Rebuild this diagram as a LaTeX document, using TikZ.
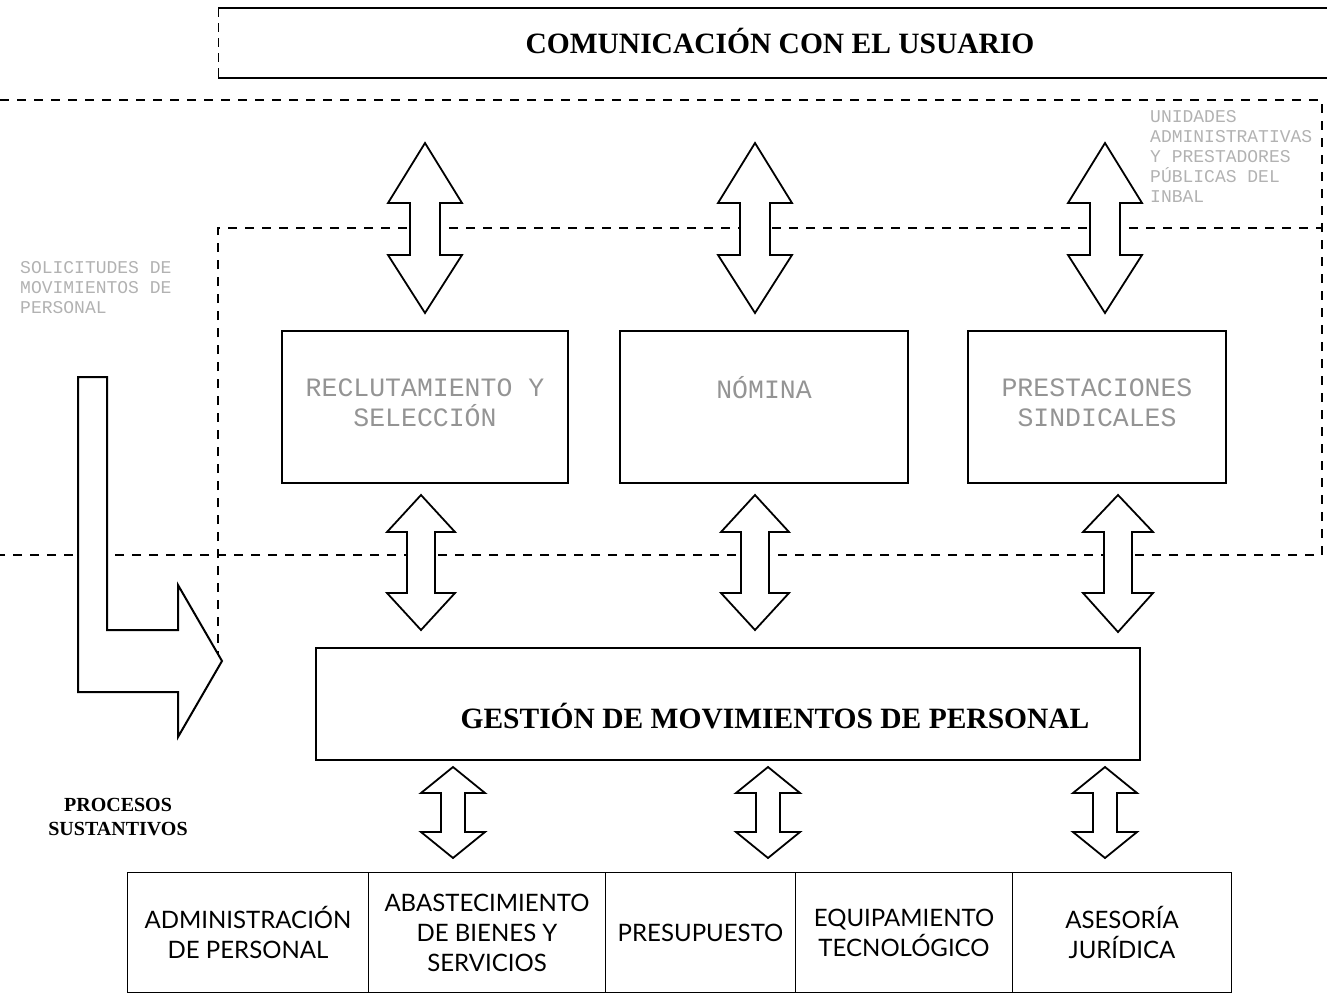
\documentclass[tikz,border=0pt]{standalone}
\usepackage{fontspec}
\setmainfont{Liberation Serif}
\newfontfamily\monofont{Liberation Mono}
\newfontfamily\humanist{Lato}
\begin{document}
\begin{tikzpicture}[x=1pt,y=-1pt,
  framebox/.style={draw,line width=1.3pt,minimum height=152pt},
  band/.style={line width=1.6pt,dash pattern=on 9pt off 8pt},
  thinband/.style={line width=1pt,dash pattern=on 9pt off 6pt},
  blockarrow/.style={draw,line width=1.8pt,fill=white,line join=miter},
  greytext/.style={text=black!42,font=\monofont\fontsize{26.5}{30}\selectfont,align=center},
  faint/.style={text=black!30,font=\monofont\fontsize{18}{20}\selectfont,align=left,inner sep=0pt,anchor=north west},
  unit/.style={draw,line width=1pt,minimum height=120pt,anchor=north west,inner sep=0pt,
    font=\humanist\fontsize{24}{30}\selectfont,align=center}]
\useasboundingbox (0,0) rectangle (1327,993);

% user communication band
\draw[line width=1.3pt] (1327,8) -- (218,8);
\draw[line width=1.3pt] (218,78) -- (1327,78);
\draw[thinband] (218,8) -- (218,78);
\node (comm) at (780,41) {\fontsize{29.5}{30}\selectfont\bfseries COMUNICACIÓN CON EL USUARIO};

% dashed bands
\draw[band] (0,100) -- (1322,100) -- (1322,555) -- (0,555);
\draw[band] (218,660) -- (218,228) -- (1322,228);

\node[faint] (units) at (1150,110) {UNIDADES\\ADMINISTRATIVAS\\Y PRESTADORES\\PÚBLICAS DEL\\INBAL};
\node[faint] (requests) at (20,261) {SOLICITUDES DE\\MOVIMIENTOS DE\\PERSONAL};

% middle row of processes
\node[framebox,minimum width=286pt] (recl) at (425,407) {};
\node[framebox,minimum width=288pt] (nom) at (764,407) {};
\node[framebox,minimum width=258pt] (prest) at (1097,407) {};
\node[greytext] (recltext) at ([yshift=4pt]recl.center) {RECLUTAMIENTO Y\\SELECCIÓN};
\node[greytext] (nomtext) at ([yshift=19pt]nom.center) {NÓMINA};
\node[greytext] (presttext) at ([yshift=4pt]prest.center) {PRESTACIONES\\SINDICALES};

% central process
\node[draw,line width=2pt,minimum width=824pt,minimum height=112pt] (gest) at (728,704) {};
\node (gesttext) at (775,716) {\fontsize{29.5}{30}\selectfont\bfseries GESTIÓN DE MOVIMIENTOS DE PERSONAL};

% double block arrows: centre x, head half width, shaft half width, top tip, head bases, bottom tip
\foreach \cx/\hw/\sw/\ta/\hb/\hc/\tb in {425/37/15/143/203/255/313, 755/37/15/143/203/255/313, 1105/37/15/143/203/255/313,
    421/34/14/495/532/593/630, 755/34/14/495/532/593/630, 1118/35/14/495/532/593/632,
    453/32/12/767/793/832/858, 768/32/12/767/793/832/858, 1105/32/12/767/793/832/858}{
  \draw[blockarrow] (\cx,\ta) -- (\cx+\hw,\hb) -- (\cx+\sw,\hb) -- (\cx+\sw,\hc) -- (\cx+\hw,\hc)
    -- (\cx,\tb) -- (\cx-\hw,\hc) -- (\cx-\sw,\hc) -- (\cx-\sw,\hb) -- (\cx-\hw,\hb) -- cycle;
}

% incoming requests arrow
\draw[blockarrow,line width=2pt] (78,377) -- (107,377) -- (107,630) -- (178,630) -- (178,585) -- (222,661)
  -- (178,737) -- (178,692) -- (78,692) -- cycle;

\node[align=center,font=\fontsize{20}{24}\selectfont\bfseries] (subst) at (118,817) {PROCESOS\\SUSTANTIVOS};

% supporting units
\node[unit,minimum width=241pt] (adm) at (127,872) {ADMINISTRACIÓN\\DE PERSONAL};
\node[unit,minimum width=237pt] (abas) at (368,872) {ABASTECIMIENTO\\DE BIENES Y\\SERVICIOS};
\node[unit,minimum width=190pt] (pres) at (605,872) {PRESUPUESTO};
\node[unit,minimum width=217pt] (equip) at (795,872) {EQUIPAMIENTO\\TECNOLÓGICO};
\node[unit,minimum width=219pt] (ases) at (1012,872) {ASESORÍA\\JURÍDICA};
\end{tikzpicture}
\end{document}
